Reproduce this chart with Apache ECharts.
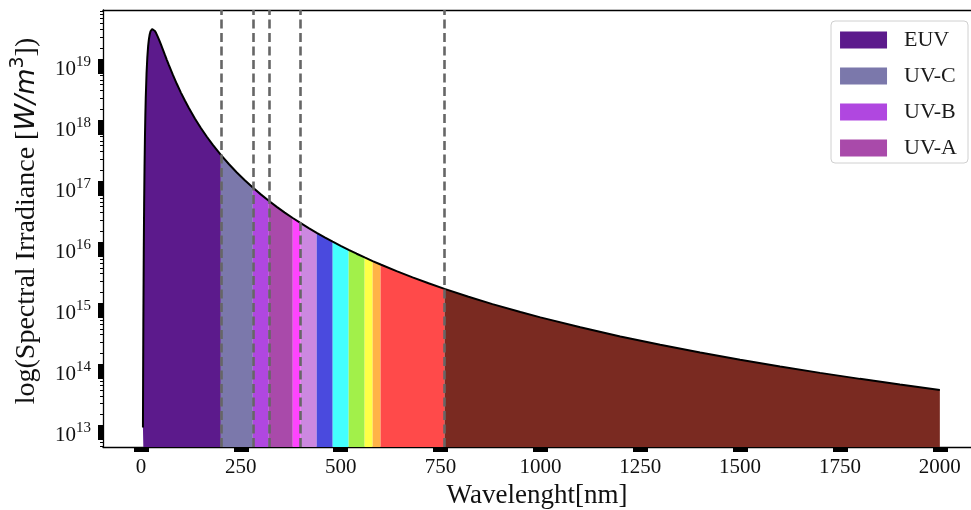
<!DOCTYPE html>
<html>
<head>
<meta charset="utf-8">
<script src="https://cdn.jsdelivr.net/npm/echarts@6/dist/echarts.min.js"></script>
<style>
html,body{margin:0;padding:0;background:#ffffff;}
#chart{width:971px;height:510px;}
</style>
</head>
<body>
<div id="chart"></div>
<script>
// Wavelength samples [nm] and spectral irradiance
const wavelengths = [5, 5.5, 6, 7, 8, 9, 10, 11, 12, 14, 16, 18, 20, 22, 24, 26, 28, 30, 32, 35, 38, 42, 46, 50, 55, 60, 65, 70, 80, 90, 100, 110, 120, 135, 150, 165, 180, 200, 220, 240, 260, 280, 300, 320, 340, 360, 380, 400, 420, 440, 460, 480, 500, 520, 540, 560, 580, 600, 640, 680, 720, 760, 820, 880, 950, 1000, 1100, 1200, 1300, 1400, 1500, 1600, 1700, 1800, 1900, 2000];
const irradiance = [1.213e13, 1.031e14, 5.902e14, 8.394e15, 5.621e16, 2.301e17, 6.721e17, 1.544e18, 2.972e18, 7.622e18, 1.413e19, 2.130e19, 2.798e19, 3.344e19, 3.737e19, 3.976e19, 4.083e19, 4.083e19, 4.003e19, 3.781e19, 3.489e19, 3.064e19, 2.650e19, 2.273e19, 1.867e19, 1.531e19, 1.260e19, 1.041e19, 7.211e18, 5.111e18, 3.704e18, 2.741e18, 2.066e18, 1.396e18, 9.745e17, 6.998e17, 5.149e17, 3.534e17, 2.503e17, 1.822e17, 1.357e17, 1.030e17, 7.963e16, 6.253e16, 4.976e16, 4.010e16, 3.266e16, 2.687e16, 2.231e16, 1.867e16, 1.574e16, 1.337e16, 1.143e16, 9.828e15, 8.496e15, 7.383e15, 6.446e15, 5.651e15, 4.400e15, 3.477e15, 2.783e15, 2.254e15, 1.675e15, 1.271e15, 9.414e14, 7.696e14, 5.293e14, 3.757e14, 2.741e14, 2.046e14, 1.558e14, 1.207e14, 9.498e13, 7.576e13, 6.113e13, 4.990e13];

// Colour bands [nm]
const bandEdges = [5, 200, 280, 320, 380, 400, 440, 480, 520, 560, 580, 600, 760, 2000];
const bandNames = ['EUV', 'UV-C', 'UV-B', 'UV-A', 'Violet', 'Indigo', 'Blue', 'Cyan', 'Green', 'Yellow', 'Orange', 'Red', 'IR'];
const bandColors = ['#5c1a8c', '#7b78ab', '#b047e0', '#a94aaa', '#ff44ff', '#cc88e0', '#4a4ade', '#44ffff', '#a2f04a', '#ffff46', '#ffb347', '#ff4a4a', '#7a2a21'];
const legendNames = ['EUV', 'UV-C', 'UV-B', 'UV-A'];

// Dashed dividers [nm]
const dividerLines = [200, 280, 320, 400, 760];

// Axis ticks
const xTicks = [0, 250, 500, 750, 1000, 1250, 1500, 1750, 2000];
const yTicks = [1e13, 1e14, 1e15, 1e16, 1e17, 1e18, 1e19];
const yDecades = [12, 13, 14, 15, 16, 17, 18, 19];

const X_MIN = -95, X_MAX = 2078;
const Y_MIN = 5.8e12, Y_MAX = 8.34e19;

const minorTicks = [];
yDecades.forEach(d => {
  for (let k = 2; k <= 9; k++) {
    const v = k * Math.pow(10, d);
    if (v >= Y_MIN && v <= Y_MAX) minorTicks.push(v);
  }
});

const points = wavelengths.map((w, i) => [w, irradiance[i]]);

const SERIF = 'Liberation Serif';

const bandSeries = bandNames.map((name, i) => ({
  name: name,
  type: 'line',
  xAxisIndex: 0,
  yAxisIndex: 0,
  data: points.filter(p => p[0] >= bandEdges[i] && p[0] <= bandEdges[i + 1]),
  showSymbol: false,
  symbol: 'none',
  color: bandColors[i],
  itemStyle: { color: bandColors[i] },
  lineStyle: { width: 0, color: bandColors[i] },
  areaStyle: { color: bandColors[i], opacity: 1, origin: 'start' },
  silent: true,
  z: 2,
  animation: false
}));

const curveSeries = {
  name: 'curve',
  type: 'line',
  xAxisIndex: 0,
  yAxisIndex: 0,
  data: points,
  showSymbol: false,
  symbol: 'none',
  lineStyle: { color: '#000000', width: 2 },
  itemStyle: { color: '#000000' },
  silent: true,
  z: 4,
  animation: false,
  markLine: {
    silent: true,
    symbol: 'none',
    animation: false,
    label: { show: false },
    lineStyle: { type: [9, 4.5], color: '#666666', width: 2.6 },
    data: dividerLines.map(v => ({ xAxis: v }))
  }
};

const chart = echarts.init(document.getElementById('chart'), null, { renderer: 'canvas' });

chart.setOption({
  backgroundColor: '#ffffff',
  animation: false,
  grid: { left: 103, right: 0, top: 10, bottom: 63, containLabel: false, outerBoundsMode: 'none' },
  legend: {
    data: legendNames,
    orient: 'vertical',
    right: 3,
    top: 21,
    icon: 'rect',
    itemWidth: 47,
    itemHeight: 17,
    itemGap: 14,
    padding: [8, 11, 4, 9],
    borderColor: '#d0d0d0',
    borderWidth: 1,
    borderRadius: 4,
    backgroundColor: '#ffffff',
    textStyle: { fontFamily: SERIF, fontSize: 22, color: '#1a1a1a', padding: [0, 0, 0, 12], lineHeight: 20 },
    selectedMode: false
  },
  xAxis: [{
    type: 'value',
    min: X_MIN,
    max: X_MAX,
    position: 'bottom',
    name: 'Wavelenght[nm]',
    nameLocation: 'middle',
    nameGap: 32,
    nameTextStyle: { fontFamily: SERIF, fontSize: 27, color: '#111111' },
    axisLine: { show: true, onZero: false, lineStyle: { color: '#000000', width: 1.3 } },
    axisTick: { show: true, inside: false, customValues: xTicks, length: 5, lineStyle: { color: '#000000', width: 15 } },
    axisLabel: {
      show: true, customValues: xTicks, margin: 10, fontFamily: SERIF, fontSize: 21, color: '#111111',
      formatter: function (v) { return String(v); }
    },
    splitLine: { show: false }
  }, {
    type: 'value',
    min: X_MIN,
    max: X_MAX,
    position: 'top',
    axisLine: { show: true, onZero: false, lineStyle: { color: '#000000', width: 1.3 } },
    axisTick: { show: false },
    axisLabel: { show: false },
    splitLine: { show: false }
  }],
  yAxis: [{
    type: 'log',
    logBase: 10,
    min: Y_MIN,
    max: Y_MAX,
    position: 'left',
    name: '{n|log(Spectral Irradiance [}{i|W/m}{p|3}{n|])}',
    nameLocation: 'middle',
    nameGap: 58,
    nameTextStyle: {
      padding: [0, 0, 0, 15],
      rich: {
        n: { fontFamily: SERIF, fontSize: 28, color: '#111111', lineHeight: 36 },
        i: { fontFamily: 'DejaVu Sans', fontStyle: 'italic', fontSize: 27, color: '#111111' },
        p: { fontFamily: 'DejaVu Sans', fontSize: 19, color: '#111111', verticalAlign: 'top' }
      }
    },
    axisLine: { show: true, onZero: false, lineStyle: { color: '#000000', width: 1.3 } },
    axisTick: { show: true, inside: false, customValues: yTicks, length: 5, lineStyle: { color: '#000000', width: 15 } },
    axisLabel: {
      show: true,
      customValues: yTicks,
      margin: 12,
      padding: [6, 0, 0, 0],
      formatter: function (v) {
        return '{b|10}{s|' + Math.round(Math.log10(v)) + '}';
      },
      rich: {
        b: { fontFamily: SERIF, fontSize: 21, color: '#111111', lineHeight: 30 },
        s: { fontFamily: SERIF, fontSize: 15, color: '#111111', verticalAlign: 'top' }
      }
    },
    splitLine: { show: false },
    minorTick: { show: false }
  }, {
    type: 'log',
    logBase: 10,
    min: Y_MIN,
    max: Y_MAX,
    position: 'left',
    axisLine: { show: false, onZero: false },
    axisTick: { show: true, inside: false, customValues: minorTicks, length: 3, lineStyle: { color: '#000000', width: 1 } },
    axisLabel: { show: false },
    splitLine: { show: false }
  }],
  series: bandSeries.concat([curveSeries])
});
</script>
</body>
</html>
